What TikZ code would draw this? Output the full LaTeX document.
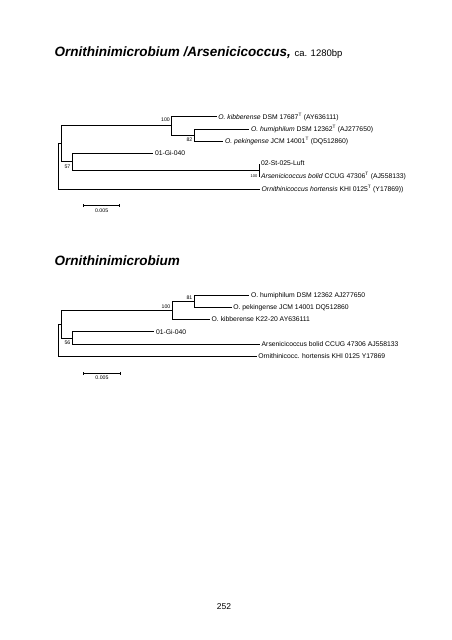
\documentclass[tikz,border=0pt]{standalone}
\usepackage{fontspec}
\setmainfont{Liberation Sans}
\usetikzlibrary{arrows.meta,positioning}

\tikzset{
  branch/.style={line width=0.8pt},
  tip/.style={anchor=west,inner sep=1.5pt,font=\fontsize{6.8}{7.5}\selectfont},
  boot/.style={inner sep=0.5pt,font=\fontsize{5.2}{6}\selectfont},
  ttl/.style={anchor=base west,inner sep=0pt,font=\fontsize{13.5}{15}\selectfont},
}

\begin{document}
\begin{tikzpicture}[x=1pt,y=-1pt]
\useasboundingbox[fill=white] (0,0) rectangle (452,640);

% Titles
\node[ttl] (t1) at (54.3,56.5) {\textbf{\textit{Ornithinimicrobium /Arsenicicoccus,}} {\fontsize{9.5}{10}\selectfont ca. 1280bp}};
\node[ttl] (t2) at (54.3,265) {\textbf{\textit{Ornithinimicrobium}}};

% Tree 1 - internal nodes
\coordinate (r1) at (58.3,166.5);
\coordinate (a1) at (61.7,143.7);
\coordinate (c1) at (171.7,125.8);
\coordinate (d1) at (194,135);
\coordinate (b1) at (72.3,161.7);
\coordinate (e1) at (259.3,170);

% Tree 1 - tips
\node[tip] (kib1) at (216.7,116.7) {\textit{O. kibberense} DSM 17687\textsuperscript{T} (AY636111)};
\node[tip] (hum1) at (249.3,129) {\textit{O. humiphilum} DSM 12362\textsuperscript{T} (AJ277650)};
\node[tip] (pek1) at (223.3,141) {\textit{O. pekingense} JCM 14001\textsuperscript{T} (DQ512860)};
\node[tip] (gi1) at (153.3,153.3) {01-Gi-040};
\node[tip] (luft1) at (259.3,163.5) {02-St-025-Luft};
\node[tip] (ars1) at (259.3,176.5) {\textit{Arsenicicoccus bolid} CCUG 47306\textsuperscript{T} (AJ558133)};
\node[tip] (orn1) at (260,189.3) {\textit{Ornithinicoccus hortensis} KHI 0125\textsuperscript{T} (Y17869))};

% Tree 1 - branches
\draw[branch] (r1) |- (a1);
\draw[branch] (r1) |- (orn1.west);
\draw[branch] (a1) |- (c1);
\draw[branch] (a1) |- (b1);
\draw[branch] (c1) |- (kib1.west);
\draw[branch] (c1) |- (d1);
\draw[branch] (d1) |- (hum1.west);
\draw[branch] (d1) |- (pek1.west);
\draw[branch] (b1) |- (gi1.west);
\draw[branch] (b1) |- (e1);
\draw[branch] (e1) -- (luft1.west);
\draw[branch] (e1) -- (ars1.west);

% Tree 1 - bootstrap values
\node[boot,anchor=north east] (bs1c) at (170.5,117.5) {100};
\node[boot,anchor=east] (bs1d) at (193,140) {82};
\node[boot,anchor=east] (bs1b) at (71,166.7) {57};
\node[boot,anchor=east,font=\fontsize{4}{5}\selectfont] (bs1e) at (258,176) {100};

% Tree 1 - scale bar
\coordinate (s1a) at (83.3,205.7);
\coordinate (s1b) at (120,205.7);
\draw[branch,{Bar[width=3pt]}-{Bar[width=3pt]}] (s1a) -- node[boot,below=2pt] (s1l) {0.005} (s1b);

% Tree 2 - internal nodes
\coordinate (r2) at (58.3,340.2);
\coordinate (a2) at (61.7,324.3);
\coordinate (c2) at (172.3,310.5);
\coordinate (d2) at (194,301.7);
\coordinate (b2) at (72.3,338);

% Tree 2 - tips
\node[tip] (hum2) at (249.3,295.7) {O. humiphilum DSM 12362 AJ277650};
\node[tip] (pek2) at (231.7,307.7) {O. pekingense JCM 14001 DQ512860};
\node[tip] (kib2) at (210,319.3) {O. kibberense K22-20 AY636111};
\node[tip] (gi2) at (154.3,331.7) {01-Gi-040};
\node[tip] (ars2) at (260,344.3) {Arsenicicoccus bolid CCUG 47306 AJ558133};
\node[tip] (orn2) at (256.7,356) {Ornithinicocc. hortensis KHI 0125 Y17869};

% Tree 2 - branches
\draw[branch] (r2) |- (a2);
\draw[branch] (r2) |- (orn2.west);
\draw[branch] (a2) |- (c2);
\draw[branch] (a2) |- (b2);
\draw[branch] (c2) |- (d2);
\draw[branch] (c2) |- (kib2.west);
\draw[branch] (d2) |- (hum2.west);
\draw[branch] (d2) |- (pek2.west);
\draw[branch] (b2) |- (gi2.west);
\draw[branch] (b2) |- (ars2.west);

% Tree 2 - bootstrap values
\node[boot,anchor=east] (bs2c) at (171,306.7) {100};
\node[boot,anchor=east] (bs2d) at (193,297.7) {81};
\node[boot,anchor=east] (bs2b) at (71,342.7) {56};

% Tree 2 - scale bar
\coordinate (s2a) at (83.3,373.3);
\coordinate (s2b) at (120.7,373.3);
\draw[branch,{Bar[width=3pt]}-{Bar[width=3pt]}] (s2a) -- node[boot,below=2pt] (s2l) {0.005} (s2b);

% Page number
\node[font=\fontsize{8.5}{9}\selectfont] (pg) at (224,607) {252};
\end{tikzpicture}
\end{document}
